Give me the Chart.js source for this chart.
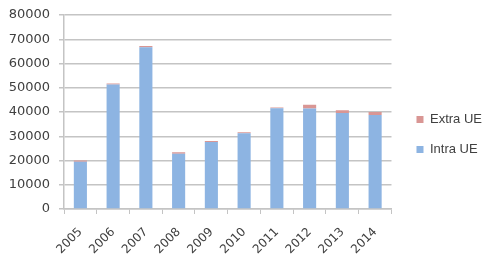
<!DOCTYPE html>
<html>
<head>
<meta charset="utf-8">
<script src="https://cdn.jsdelivr.net/npm/chart.js@4/dist/chart.umd.min.js"></script>
<style>
  html, body { margin: 0; padding: 0; background: #fff; }
  #wrap { width: 500px; height: 264px; }
</style>
</head>
<body>
<div id="wrap"><canvas id="myChart"></canvas></div>
<script>
const years = ["2005", "2006", "2007", "2008", "2009", "2010", "2011", "2012", "2013", "2014"];
const intraUE = [19500, 51300, 66700, 22800, 27600, 31200, 41500, 41400, 39600, 38800];
const extraUE = [500, 500, 500, 600, 400, 400, 400, 1600, 1100, 1200];
const yTicks = [0, 10000, 20000, 30000, 40000, 50000, 60000, 70000, 80000];

const gridColor = '#c4c4c4';

// nudge the legend a bit away from the plot, like the original
const legendShift = {
    id: 'legendShift',
    afterLayout(chart) {
        chart.legend.left += 8;
        chart.legend.right += 8;
    }
};

const ctx = document.getElementById('myChart').getContext('2d');
const mychart = new Chart(ctx, {
    type: 'bar',
    data: {
        labels: years,
        datasets: [{
            label: 'Intra UE',
            data: intraUE,
            backgroundColor: '#8db4e2',
            borderWidth: 0,
            barPercentage: 0.5,
            categoryPercentage: 0.8
        }, {
            label: 'Extra UE',
            data: extraUE,
            backgroundColor: '#d99694',
            borderWidth: 0,
            barPercentage: 0.5,
            categoryPercentage: 0.8
        }]
    },
    options: {
        responsive: true,
        maintainAspectRatio: false,
        animation: false,
        layout: {
            padding: { top: 15, left: 5, right: 16, bottom: 10 }
        },
        scales: {
            x: {
                stacked: true,
                afterFit: (scale) => {
                    scale.height = 45;
                },
                grid: {
                    display: true,
                    drawOnChartArea: false,
                    drawTicks: true,
                    tickLength: 5,
                    color: gridColor
                },
                border: { color: gridColor, width: 1.5 },
                ticks: {
                    color: '#404040',
                    font: { family: 'DejaVu Sans', size: 12 },
                    minRotation: 45,
                    maxRotation: 45,
                    padding: 11
                }
            },
            y: {
                stacked: true,
                min: 0,
                max: 80000,
                afterBuildTicks: (scale) => {
                    scale.ticks = yTicks.map(v => ({ value: v }));
                },
                afterFit: (scale) => {
                    scale.width = 59;
                    scale.paddingTop = 0;
                    scale.paddingBottom = 0;
                },
                grid: {
                    color: gridColor,
                    lineWidth: 1.5,
                    drawTicks: true,
                    tickLength: 5
                },
                border: { color: gridColor, width: 1.5 },
                ticks: {
                    color: '#404040',
                    font: { family: 'DejaVu Sans', size: 13 },
                    padding: 9,
                    callback: (v) => String(v)
                }
            }
        },
        plugins: {
            legend: {
                position: 'right',
                reverse: true,
                labels: {
                    boxWidth: 7,
                    boxHeight: 7,
                    padding: 17,
                    color: '#404040',
                    font: { family: 'Liberation Sans', size: 13 }
                }
            },
            tooltip: { enabled: false }
        }
    },
    plugins: [legendShift]
});
</script>
</body>
</html>
